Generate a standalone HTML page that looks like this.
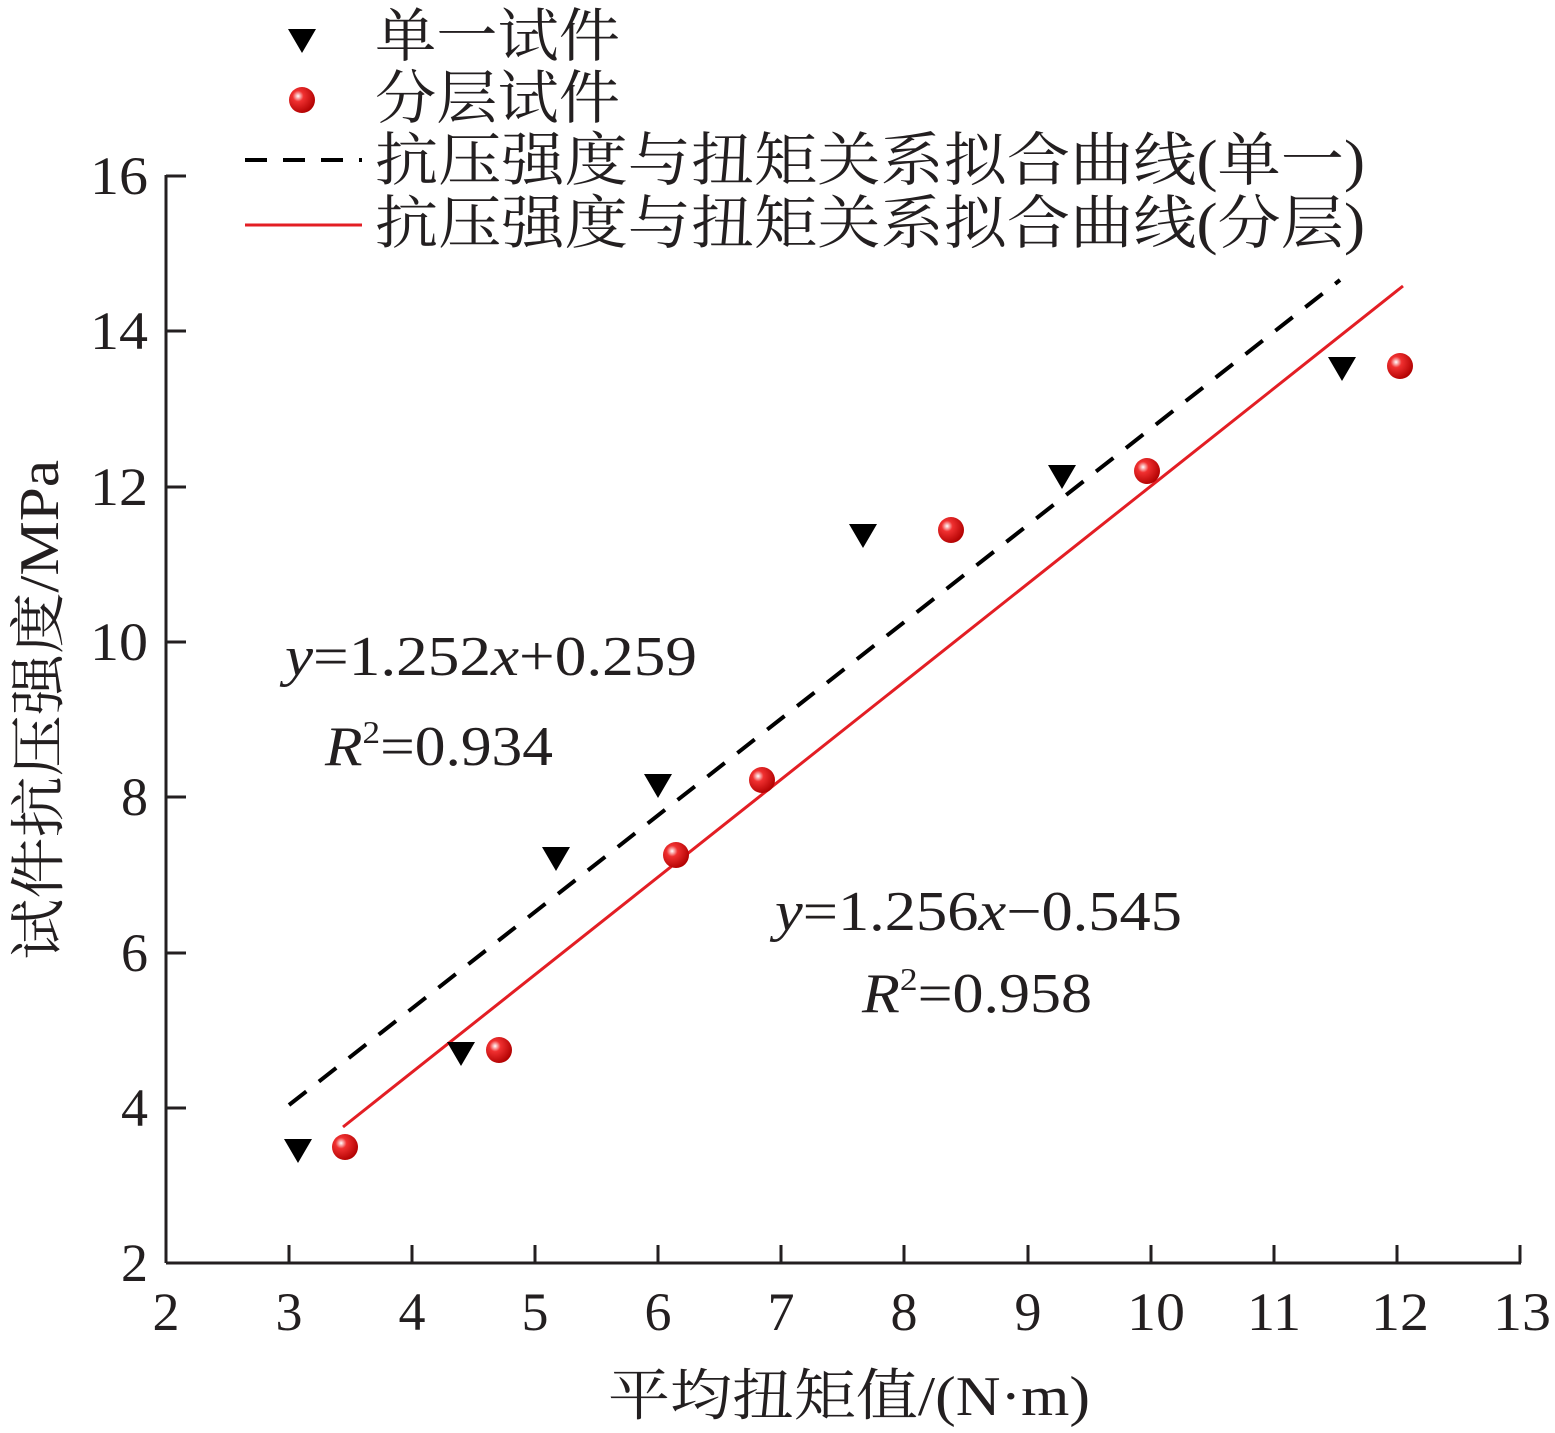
<!DOCTYPE html>
<html><head><meta charset="utf-8"><style>
html,body{margin:0;padding:0;background:#fff;}
svg{display:block;}
text{font-family:"Liberation Serif","Noto Serif CJK SC",serif;fill:#231f20;}
</style></head><body>
<svg width="1555" height="1433" viewBox="0 0 1555 1433" xmlns="http://www.w3.org/2000/svg">
<defs>
<radialGradient id="g" cx="0.35" cy="0.35" r="0.7">
<stop offset="0" stop-color="#fff"/><stop offset="0.3" stop-color="#f03030"/><stop offset="1" stop-color="#b00000"/>
</radialGradient>
</defs>
<g stroke="#231f20" stroke-width="3" fill="none">
<line x1="166" y1="1263" x2="1521" y2="1263"/>
<line x1="166" y1="1263" x2="166" y2="175"/>
<path d="M289 1263v-18M412 1263v-18M535 1263v-18M658 1263v-18M781 1263v-18M904 1263v-18M1028 1263v-18M1151 1263v-18M1274 1263v-18M1397 1263v-18M1520 1263v-18"/>
<path d="M166 1108h20M166 953h20M166 797h20M166 642h20M166 487h20M166 331h20M166 176h20"/>
</g>
<g font-size="54" text-anchor="middle">
<text x="166" y="1330">2</text><text x="289" y="1330">3</text><text x="412" y="1330">4</text><text x="535" y="1330">5</text><text x="658" y="1330">6</text><text x="781" y="1330">7</text><text x="904" y="1330">8</text><text x="1028" y="1330">9</text>
<text x="1156" y="1330" textLength="58" lengthAdjust="spacingAndGlyphs">10</text><text x="1274" y="1330" textLength="54" lengthAdjust="spacingAndGlyphs">11</text><text x="1400" y="1330" textLength="58" lengthAdjust="spacingAndGlyphs">12</text><text x="1522" y="1330" textLength="58" lengthAdjust="spacingAndGlyphs">13</text>
</g>
<g font-size="54" text-anchor="end">
<text x="148" y="1281">2</text><text x="148" y="1126">4</text><text x="148" y="971">6</text><text x="148" y="815">8</text>
<text x="148" y="660" textLength="58" lengthAdjust="spacingAndGlyphs">10</text><text x="148" y="505" textLength="58" lengthAdjust="spacingAndGlyphs">12</text><text x="148" y="349" textLength="58" lengthAdjust="spacingAndGlyphs">14</text><text x="148" y="194" textLength="58" lengthAdjust="spacingAndGlyphs">16</text>
</g>
<text x="608" y="1415" font-size="56" textLength="482" lengthAdjust="spacingAndGlyphs">平均扭矩值/(N·m)</text>
<text transform="translate(58,960) rotate(-90)" font-size="56" textLength="500" lengthAdjust="spacingAndGlyphs">试件抗压强度/MPa</text>
<line x1="289" y1="1105" x2="1340" y2="280" stroke="#000" stroke-width="4" stroke-dasharray="22,16"/>
<line x1="343" y1="1127" x2="1403" y2="286" stroke="#e31e24" stroke-width="3"/>
<g fill="#000">
<path d="M284 1139h28l-14 24z"/><path d="M447 1042h28l-14 24z"/><path d="M542 847h28l-14 24z"/><path d="M644 774h28l-14 24z"/><path d="M849 524h28l-14 24z"/><path d="M1048 465h28l-14 24z"/><path d="M1328 357h28l-14 24z"/>
<path d="M288 29h28l-14 24z"/>
</g>
<g fill="url(#g)">
<circle cx="345" cy="1147" r="13"/><circle cx="499" cy="1050" r="13"/><circle cx="676" cy="855" r="13"/><circle cx="762" cy="780" r="13"/><circle cx="951" cy="530" r="13"/><circle cx="1147" cy="471" r="13"/><circle cx="1400" cy="366" r="13"/>
<circle cx="302" cy="100" r="13"/>
</g>
<line x1="245" y1="160" x2="362" y2="160" stroke="#000" stroke-width="4" stroke-dasharray="22,16"/>
<line x1="245" y1="225" x2="362" y2="225" stroke="#e31e24" stroke-width="3"/>
<g font-size="58">
<text x="375" y="56" textLength="245" lengthAdjust="spacingAndGlyphs">单一试件</text>
<text x="375" y="118" textLength="245" lengthAdjust="spacingAndGlyphs">分层试件</text>
<text x="375" y="180" textLength="990" lengthAdjust="spacingAndGlyphs">抗压强度与扭矩关系拟合曲线(单一)</text>
<text x="375" y="243" textLength="990" lengthAdjust="spacingAndGlyphs">抗压强度与扭矩关系拟合曲线(分层)</text>
</g>
<g font-size="56">
<text x="285" y="675" textLength="412" lengthAdjust="spacingAndGlyphs"><tspan font-style="italic">y</tspan>=1.252<tspan font-style="italic">x</tspan>+0.259</text>
<text x="325" y="765" textLength="228" lengthAdjust="spacingAndGlyphs"><tspan font-style="italic">R</tspan><tspan font-size="32" dy="-22">2</tspan><tspan dy="22">=0.934</tspan></text>
<text x="775" y="930" textLength="407" lengthAdjust="spacingAndGlyphs"><tspan font-style="italic">y</tspan>=1.256<tspan font-style="italic">x</tspan>−0.545</text>
<text x="862" y="1012" textLength="230" lengthAdjust="spacingAndGlyphs"><tspan font-style="italic">R</tspan><tspan font-size="32" dy="-22">2</tspan><tspan dy="22">=0.958</tspan></text>
</g>
</svg>
</body></html>
